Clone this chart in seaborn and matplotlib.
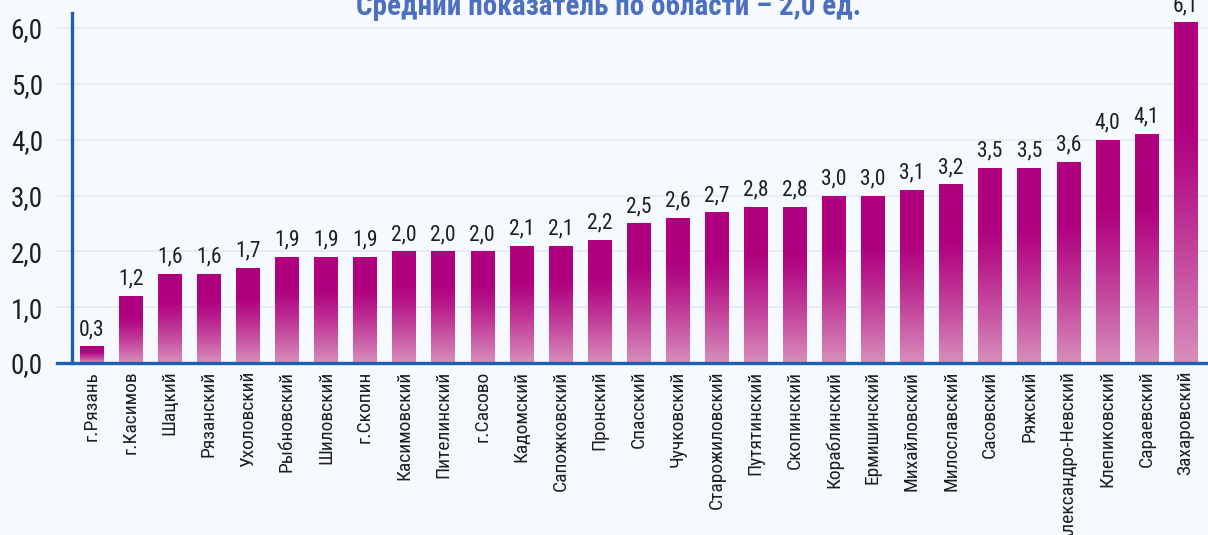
import os
import numpy as np
import matplotlib
matplotlib.use("Agg")
import matplotlib.pyplot as plt
import seaborn as sns
from matplotlib import font_manager as fm
from matplotlib.ticker import FixedLocator

# Показатель по районам и городам области, ед.
districts = [
    "г.Рязань", "г.Касимов", "Шацкий", "Рязанский", "Ухоловский", "Рыбновский",
    "Шиловский", "г.Скопин", "Касимовский", "Пителинский", "г.Сасово", "Кадомский",
    "Сапожковский", "Пронский", "Спасский", "Чучковский", "Старожиловский",
    "Путятинский", "Скопинский", "Кораблинский", "Ермишинский", "Михайловский",
    "Милославский", "Сасовский", "Ряжский", "Александро-Невский", "Клепиковский",
    "Сараевский", "Захаровский",
]
values = [
    0.3, 1.2, 1.6, 1.6, 1.7, 1.9,
    1.9, 1.9, 2.0, 2.0, 2.0, 2.1,
    2.1, 2.2, 2.5, 2.6, 2.7,
    2.8, 2.8, 3.0, 3.0, 3.1,
    3.2, 3.5, 3.5, 3.6, 4.0,
    4.1, 6.1,
]
y_ticks = [0, 1, 2, 3, 4, 5, 6]
title = "Средний показатель по области – 2,0 ед."

BG = "#f6f9fe"
AXIS_BLUE = "#1d5fb2"
GRID = "#e1ecf8"
TEXT = "#1e1e1e"
TOP_RGB = np.array([176, 0, 127]) / 255
BOTTOM_RGB = np.array([216, 143, 188]) / 255

sns.set_theme(style="white")
plt.rcParams["font.family"] = ["DejaVu Sans"]


def _weight(w):
    if isinstance(w, str):
        return fm.weight_dict.get(w, 400)
    return int(w)


def narrow_face(bold=False):
    """Pick an installed condensed sans face with Cyrillic support."""
    want = 700 if bold else 400
    families = ["liberation sans narrow", "roboto condensed", "noto sans",
                "open sans", "dejavu sans", "roboto", "lato", "inter"]
    best, best_key = None, None
    for f in fm.fontManager.ttflist:
        name = f.name.lower()
        base = os.path.basename(f.fname).lower()
        if "mono" in name or "serif" in name or "cjk" in name or "italic" in base:
            continue
        if f.style != "normal":
            continue
        narrow = (f.stretch not in ("normal", 500) or "narrow" in name
                  or "condensed" in name or "condensed" in base
                  or "narrow" in base)
        if not narrow:
            continue
        fam_rank = next((i for i, fam in enumerate(families) if name.startswith(fam)),
                        len(families))
        width_rank = 1 if ("semi" in base or "extra" in base or "ultra" in base) else 0
        key = (fam_rank, width_rank, abs(_weight(f.weight) - want))
        if best_key is None or key < best_key:
            best, best_key = f, key
    if best is None:
        return fm.FontProperties(family="DejaVu Sans",
                                 weight="bold" if bold else "normal")
    return fm.FontProperties(fname=best.fname)


REG = narrow_face(False)
BOLD = narrow_face(True)


def fp(base, size):
    p = base.copy()
    p.set_size(size)
    return p


W, H = 1208, 535
fig = plt.figure(figsize=(W / 100, H / 100), dpi=100, facecolor=BG)
ax = fig.add_axes([57 / W, 1 - 363 / H, (W - 57) / W, 350 / H])
ax.set_facecolor(BG)

sns.barplot(x=districts, y=values, order=districts, width=0.6,
            color="#b0007f", ax=ax, zorder=2)

# vertical gradient inside each bar: solid magenta on top, fading to pink
t = np.linspace(0, 1, 256)            # 0 = bottom, 1 = top
fade = np.clip((1 - t - 0.3) / 0.7, 0, 1) ** 1.2
grad = TOP_RGB[None, :] + (BOTTOM_RGB - TOP_RGB)[None, :] * fade[:, None]
grad = grad[:, None, :]
for patch in list(ax.patches):
    x0, y0 = patch.get_x(), patch.get_y()
    w, h = patch.get_width(), patch.get_height()
    im = ax.imshow(grad, extent=[x0, x0 + w, y0, y0 + h], origin="lower",
                   aspect="auto", zorder=2, interpolation="bilinear")
    im.set_clip_path(patch)
    patch.set_facecolor("none")
    patch.set_edgecolor("none")

# value labels above the bars
for i, v in enumerate(values):
    ax.annotate(f"{v:.1f}".replace(".", ","), (i, v), xytext=(0, 4.5),
                textcoords="offset points", ha="center", va="bottom",
                fontproperties=fp(REG, 15.5), color=TEXT, annotation_clip=False)

ymax = 350 / ((363 - 28) / 6)
ax.set_xlim(-0.5 - 15 / 39.07, 28.5 + 3 / 39.07)
ax.set_ylim(0, ymax)

# axes styling
for side in ("top", "right"):
    ax.spines[side].set_visible(False)
ax.spines["left"].set_position(("data", -0.5))
for side in ("left", "bottom"):
    ax.spines[side].set_color(AXIS_BLUE)
    ax.spines[side].set_linewidth(2.4)

ax.set_yticks(y_ticks)
ax.set_yticklabels([f"{v:.1f}".replace(".", ",") for v in y_ticks])
ax.tick_params(axis="y", length=0, pad=21, labelcolor=TEXT)
for lbl in ax.get_yticklabels():
    lbl.set_fontproperties(fp(REG, 19.5))
ax.yaxis.grid(True, color=GRID, linewidth=1.3)
ax.xaxis.grid(False)
ax.set_axisbelow(True)

ax.set_xticks(range(len(districts)))
ax.set_xticklabels(districts, rotation=90, va="top", ha="center")
ax.tick_params(axis="x", which="major", length=0, pad=5.5, labelcolor=TEXT)
for lbl in ax.get_xticklabels():
    lbl.set_fontproperties(fp(REG, 14))
ax.xaxis.set_minor_locator(FixedLocator(np.arange(-0.5, len(districts), 1.0)))
ax.tick_params(axis="x", which="minor", length=7.5, width=2.2,
               color=AXIS_BLUE, direction="out")
ax.set_xlabel("")
ax.set_ylabel("")

fig.text(0.504, 1 - 15 / H, title, ha="center", va="baseline",
         fontproperties=fp(BOLD, 21), color="#4b70bf")

fig.savefig("out.png", dpi=100, facecolor=BG)
